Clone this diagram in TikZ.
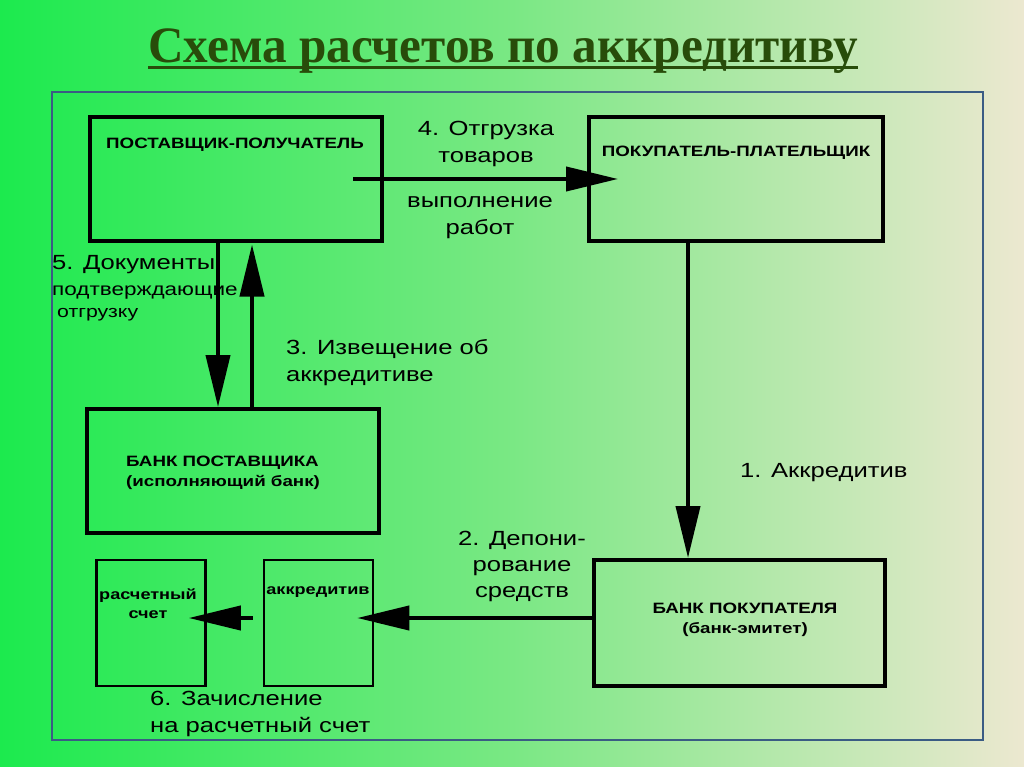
\documentclass[tikz,border=0pt]{standalone}
\usepackage{fontspec}
\setmainfont[FakeStretch=1.25]{Liberation Sans}
\newfontfamily\titlefont[FakeStretch=0.965]{Liberation Serif}
\usetikzlibrary{arrows.meta}
\definecolor{bgleft}{RGB}{28,234,78}
\definecolor{bgmid}{RGB}{122,232,132}
\definecolor{bgright}{RGB}{236,232,208}
\definecolor{titlegreen}{RGB}{40,76,10}
\definecolor{framec}{RGB}{58,92,132}

\begin{document}
\begin{tikzpicture}[x=1pt,y=-1pt,
  box/.style={draw,line width=4pt,inner sep=0pt},
  smallbox/.style={draw,line width=2.5pt,inner sep=0pt,minimum width=109pt,minimum height=126pt},
  boxtext/.style={font=\bfseries\fontsize{15}{20}\selectfont,align=center,inner sep=0pt},
  lbl/.style={font=\fontsize{20.5}{27}\selectfont,inner sep=0pt},
  arr/.style={line width=4pt,-{Triangle[length=52pt,width=24pt]}}]
\useasboundingbox (0,0) rectangle (1024,767);
\shade[left color=bgleft,right color=bgright,middle color=bgmid] (0,0) rectangle (1024,767);
\draw[framec,line width=2pt] (52,92) rectangle (983,740);

% title
\node[font=\titlefont\bfseries\fontsize{51}{55}\selectfont,text=titlegreen,anchor=base,inner sep=0pt] (ttl) at (503,63) {Схема расчетов по аккредитиву};
\draw[titlegreen,line width=3pt] ([yshift=-5pt]ttl.base west) -- ([yshift=-5pt]ttl.base east);

% boxes
\node[box,minimum width=292pt,minimum height=123pt] (sup) at (236,179) {};
\node[box,minimum width=294pt,minimum height=123pt] (buy) at (736,179) {};
\node[box,minimum width=292pt,minimum height=124pt] (sbank) at (233,471) {};
\node[box,minimum width=291pt,minimum height=126pt] (bbank) at (739.5,623) {};
\node[smallbox] (rs) at (151,623) {};
\node[smallbox] (acc) at (318.5,623) {};

\node[boxtext] (supt) at (235,145) {ПОСТАВЩИК-ПОЛУЧАТЕЛЬ};
\node[boxtext] (buyt) at (736,153) {ПОКУПАТЕЛЬ-ПЛАТЕЛЬЩИК};
\node[boxtext,align=left,anchor=west] (sbankt) at (126,473) {БАНК ПОСТАВЩИКА\\(исполняющий банк)};
\node[boxtext] (bbankt) at (745,620) {БАНК ПОКУПАТЕЛЯ\\(банк-эмитет)};
\node[boxtext,font=\bfseries\fontsize{14.5}{19}\selectfont] (rst) at (148,604) {расчетный\\счет};
\node[boxtext,font=\bfseries\fontsize{14.5}{19}\selectfont] (acct) at (318,592) {аккредитив};

% labels
\node[lbl,align=center] (l4a) at (486,144) {4. Отгрузка\\товаров};
\node[lbl,align=center] (l4b) at (480,218) {выполнение\\работ};
\node[lbl,anchor=west] (l5a) at (52,265) {5. Документы};
\node[lbl,anchor=west,font=\fontsize{18}{22}\selectfont] (l5b) at (52,293) {подтверждающие};
\node[lbl,anchor=west,font=\fontsize{17}{20}\selectfont] (l5c) at (57,315) {отгрузку};
\node[lbl,anchor=west,align=left] (l3) at (286,363) {3. Извещение об\\аккредитиве};
\node[lbl,anchor=west] (l1) at (740,473) {1. Аккредитив};
\node[lbl,align=center,font=\fontsize{20.5}{26}\selectfont] (l2) at (522,566) {2. Депони-\\рование\\средств};
\node[lbl,anchor=west,align=left] (l6) at (150,714) {6. Зачисление\\на расчетный счет};

% arrows
\draw[arr] ([xshift=-31pt]sup.east) -- ([xshift=31pt]buy.west);
\draw[arr] ([xshift=-18pt]sup.south) -- ([xshift=-15pt]sbank.north);
\draw[arr] ([xshift=19pt]sbank.north) -- ([xshift=16pt,yshift=-2pt]sup.south);
\draw[arr] ([xshift=-48pt]buy.south) -- ([xshift=-51.5pt]bbank.north);
\draw[arr] ([yshift=5pt]bbank.west) -- ([xshift=-17pt,yshift=5pt]acc.east);
\draw[arr] ([xshift=-10pt,yshift=5pt]acc.west) -- ([xshift=-18pt,yshift=5pt]rs.east);
\end{tikzpicture}
\end{document}
